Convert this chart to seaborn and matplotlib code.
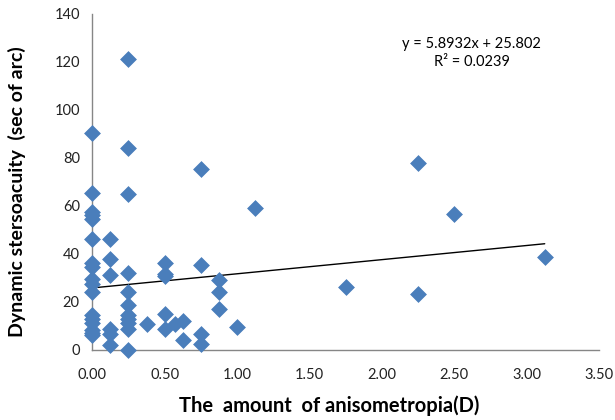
import matplotlib
matplotlib.use("Agg")
import matplotlib.pyplot as plt
import seaborn as sns
import numpy as np
import pandas as pd

# Data
aniso = [0, 0, 0, 0, 0, 0, 0, 0, 0, 0, 0, 0, 0, 0, 0, 0, 0,
         0.125, 0.125, 0.125, 0.125, 0.125, 0.125,
         0.25, 0.25, 0.25, 0.25, 0.25, 0.25, 0.25, 0.25, 0.25, 0.25, 0.25,
         0.375,
         0.5, 0.5, 0.5, 0.5, 0.5,
         0.57, 0.63, 0.63,
         0.75, 0.75, 0.75, 0.75,
         0.875, 0.875, 0.875,
         1.0, 1.125, 1.75, 2.25, 2.25, 2.5, 3.125]
stereo = [90.5, 65.5, 57.5, 56, 54.5, 46, 36, 34.5, 29.5, 27.5, 24, 14.5, 13, 11, 8.3, 7, 6,
          46, 38, 31, 8.5, 6.5, 2,
          121, 84, 65, 32, 24, 18.5, 14.5, 13, 11, 8.5, 0,
          10.8,
          36, 31.8, 30.8, 15, 8.6,
          10.8, 12.2, 4.2,
          75.5, 35.5, 6.8, 2.5,
          29, 24.2, 17,
          9.5, 59, 26, 78, 23.2, 56.5, 38.7]

slope = 5.8932
intercept = 25.802
eq_text = "y = 5.8932x + 25.802"
r2_text = "R² = 0.0239"

x_ticks = [0.0, 0.5, 1.0, 1.5, 2.0, 2.5, 3.0, 3.5]
y_ticks = [0, 20, 40, 60, 80, 100, 120, 140]

df = pd.DataFrame({"x": aniso, "y": stereo})

sns.set_style("white")
plt.rcParams["font.family"] = ["Lato", "DejaVu Sans"]

fig = plt.figure(figsize=(6.15, 4.2), dpi=100)
ax = fig.add_axes([0.15, 0.167, 0.824, 0.8])

sns.scatterplot(data=df, x="x", y="y", marker="D", s=65, color="#4A7EBB",
                edgecolor="#4A7EBB", linewidth=0.5, ax=ax, zorder=3, clip_on=False)

# trend line (linear fit shown on chart)
xs = np.array([min(aniso), max(aniso)])
sns.lineplot(x=xs, y=slope * xs + intercept, color="black", linewidth=1.0, ax=ax, zorder=2)

ax.set_xlim(0, 3.5)
ax.set_ylim(0, 140)
ax.set_xticks(x_ticks)
ax.set_xticklabels([f"{t:.2f}" for t in x_ticks])
ax.set_yticks(y_ticks)
ax.set_yticklabels([str(t) for t in y_ticks])

for side in ["top", "right"]:
    ax.spines[side].set_visible(False)
for side in ["left", "bottom"]:
    ax.spines[side].set_color("#868686")
    ax.spines[side].set_linewidth(1.0)
ax.tick_params(axis="both", direction="out", length=5, width=1, color="#868686",
               labelsize=10.5, labelcolor="#222222", pad=4)
ax.tick_params(axis="x", pad=8)

ax.set_xlabel("The  amount  of anisometropia(D)", fontsize=14.5, fontweight="bold",
              color="black", labelpad=10)
ax.set_ylabel("Dynamic stersoacuity  (sec of arc)", fontsize=14, fontweight="bold",
              color="black", labelpad=20)
ax.xaxis.label.set_x(0.467)
ax.yaxis.label.set_y(0.47)

ax.text(2.62, 127.5, eq_text, ha="center", va="center", fontsize=10.5, color="black")
ax.text(2.62, 120, r2_text, ha="center", va="center", fontsize=10.5, color="black")

fig.savefig("out.png", dpi=100)
